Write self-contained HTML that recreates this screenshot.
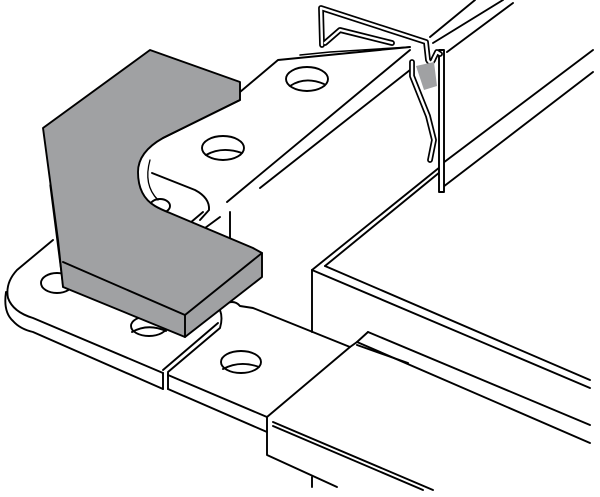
<!DOCTYPE html>
<html><head><meta charset="utf-8"><style>html,body{margin:0;padding:0;background:#fff}svg{display:block}</style></head>
<body>
<svg width="600" height="497" viewBox="0 0 600 497" xmlns="http://www.w3.org/2000/svg" fill="none" stroke="#000" stroke-width="1.9" stroke-linejoin="round" stroke-linecap="round">
<!-- big box -->
<path d="M312,270 L312,332"/>
<path d="M312,270 L590,388"/>
<path d="M325,266 L590,380"/>
<path d="M312,270 L440,167"/>
<path d="M325,266 L440,172"/>
<!-- upper rail -->
<path d="M443,163 L593,50"/>
<path d="M443,187 L593,72"/>
<path d="M430,37 L475,0"/>
<path d="M433,43 L503,0"/>
<path d="M447,52 L513,3"/>
<!-- vertical panel -->
<path d="M439,50 L439,192 L444,192 L444,50 Z" fill="#fff"/>
<!-- bracket plate -->
<path d="M240,92 L278,60 L410,47"/>
<path d="M410,50 L227,202"/>
<path d="M410,70 L260,188"/>
<path d="M230,212 L230,247"/>
<path d="M152,173 L195,190 Q210,198 209,210 L200,220"/>
<path d="M190,223 L203,212"/>
<path d="M205,228 L220,217"/>
<ellipse cx="307" cy="79" rx="21" ry="12"/>
<path d="M290,86 Q305,76 324,84" />
<ellipse cx="223" cy="148" rx="21" ry="12"/>
<path d="M206,155 Q222,146 242,153"/>
<ellipse cx="160" cy="206" rx="10" ry="7"/>
<!-- clip wire -->
<g stroke-width="5.8">
<path d="M322,45 L321,8 L426,42 L428,60 Q431,66 434,58 L437,52 L440,54"/>
<path d="M325,43 L340,30 L392,43"/>
<path d="M412,62 L412,76 L428,116 L434,140 L430,160"/>
</g>
<g stroke="#fff" stroke-width="2.4">
<path d="M322,45 L321,8 L426,42 L428,60 Q431,66 434,58 L437,52 L440,54"/>
<path d="M325,43 L340,30 L392,43"/>
<path d="M412,62 L412,76 L428,116 L434,140 L430,160"/>
</g>
<path d="M416,66 L434,62 L437,86 L424,90 Z" fill="#a0a1a3" stroke="none"/>
<path d="M300,55 L330,52 L410,47" stroke-width="1.6"/>
<!-- lower left plate -->
<path d="M53,240 L17,270 Q5,283 8,298 Q13,312 33,318 L163,373"/>
<path d="M6,292 Q3,312 13,321 Q20,329 33,332 L163,389"/>
<path d="M163,373 L163,389 M168,373 L168,389"/>
<path d="M168,372 L220,328 Q223,318 220,310"/>
<path d="M163,370 L218,323"/>
<ellipse cx="57" cy="283" rx="16" ry="10"/>
<ellipse cx="149" cy="326" rx="18" ry="10"/>
<path d="M132,332 Q148,323 166,331"/>
<!-- second plate -->
<path d="M227,303 Q235,300 240,306 L253,308 L350,347"/>
<path d="M168,375 L267,417"/>
<path d="M168,389 L267,432"/>
<ellipse cx="241" cy="362" rx="20" ry="11"/>
<path d="M223,369 Q240,360 259,367"/>
<!-- lower box -->
<path d="M267,417 L350,347 L357,342 L368,332"/>
<path d="M267,417 L267,455 L337,487"/>
<path d="M312,477 L312,487"/>
<path d="M273,422 L433,490"/>
<path d="M273,426 L423,490"/>
<path d="M368,332 L590,425"/>
<path d="M357,342 L590,443"/>
<path d="M357,345 L408,363"/>
<!-- gray block -->
<path d="M43,128 L150,50 L240,82 L240,100 L163,138 Q138,152 138,172 Q138,196 155,206 Q160,209 170,213 L253,248 L262,253 L262,277 L185,337 L63,287 L58,240 Z" fill="#a0a1a3"/>
<path d="M240,100 L163,138"/>
<path d="M63,262 L185,315 L262,253"/>
<path d="M185,315 L185,337"/>
<path d="M50,185 L63,287" stroke-width="1.3"/>
<path d="M150,160 Q143,185 158,200" stroke-width="1.3"/>
</svg>
</body></html>
